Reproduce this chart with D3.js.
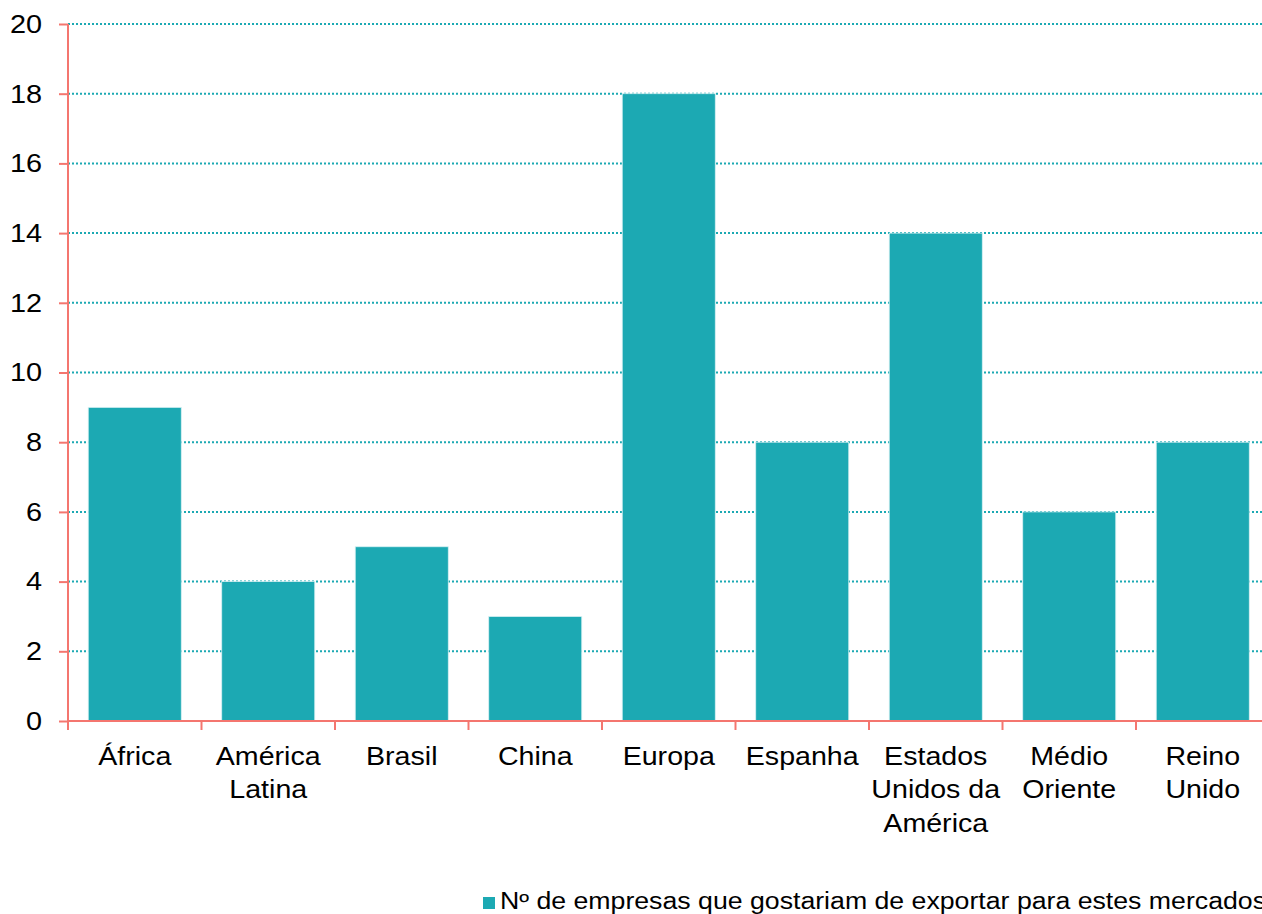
<!DOCTYPE html>
<html>
<head>
<meta charset="utf-8">
<script src="https://cdn.jsdelivr.net/npm/d3@7"></script>
<style>
  html, body { margin: 0; padding: 0; background: #fff; overflow: hidden; }
  svg { display: block; }
  text { font-family: "Liberation Sans", Arial, sans-serif; fill: #000; }
</style>
</head>
<body>
<svg id="chart" width="1262" height="914"></svg>
<script>
// Markets of interest and number of companies per market
const categories = [
  ["África"],
  ["América", "Latina"],
  ["Brasil"],
  ["China"],
  ["Europa"],
  ["Espanha"],
  ["Estados", "Unidos da", "América"],
  ["Médio", "Oriente"],
  ["Reino", "Unido"]
];
const values = [9, 4, 5, 3, 18, 8, 14, 6, 8];
const yTicks = [0, 2, 4, 6, 8, 10, 12, 14, 16, 18, 20];
const seriesName = "Nº de empresas que gostariam de exportar para estes mercados";

const barColor = "#1ca9b3";
const axisColor = "#f4766f";

const svg = d3.select("#chart");
const plotLeft = 68, plotTop = 24, plotBottom = 721;
const step = 133.5;
const keys = categories.map((c, i) => i);

const x = d3.scaleBand()
  .domain(keys)
  .range([plotLeft, plotLeft + step * keys.length])
  .paddingInner(0.303)
  .paddingOuter(0.1515);

const y = d3.scaleLinear().domain([0, 20]).range([plotBottom, plotTop]);

// dotted horizontal gridlines
svg.append("g")
  .selectAll("line")
  .data(yTicks.filter(t => t > 0))
  .join("line")
  .attr("x1", plotLeft).attr("x2", 1262)
  .attr("y1", d => y(d)).attr("y2", d => y(d))
  .attr("stroke", barColor)
  .attr("stroke-width", 2)
  .attr("stroke-dasharray", "2,2");

// bars
svg.append("g")
  .selectAll("rect")
  .data(values)
  .join("rect")
  .attr("x", (d, i) => x(i))
  .attr("width", x.bandwidth())
  .attr("y", d => y(d))
  .attr("height", d => y(0) - y(d))
  .attr("fill", barColor)
  .attr("stroke", "#d8f1f3")
  .attr("stroke-width", 0.8);

// y axis (labels slightly widened)
const tickOffset = 26;
const yAxis = svg.append("g")
  .attr("transform", `translate(${plotLeft},0)`)
  .call(d3.axisLeft(y).tickValues(yTicks).tickSize(9).tickPadding(tickOffset - 9));
yAxis.select(".domain").remove();
yAxis.selectAll(".tick line").attr("stroke", axisColor).attr("stroke-width", 2);
yAxis.selectAll(".tick text")
  .style("font-size", "26px")
  .style("font-family", "'Liberation Sans', Arial, sans-serif")
  .attr("fill", "#000")
  .attr("transform", `translate(${-tickOffset},0) scale(1.11,1) translate(${tickOffset},0)`);
yAxis.append("line")
  .attr("x1", 0).attr("x2", 0)
  .attr("y1", plotTop).attr("y2", plotBottom + 9)
  .attr("stroke", axisColor).attr("stroke-width", 2);

// x axis with ticks at band boundaries
const xg = svg.append("g");
xg.append("line")
  .attr("x1", plotLeft).attr("x2", 1262)
  .attr("y1", plotBottom).attr("y2", plotBottom)
  .attr("stroke", axisColor).attr("stroke-width", 2);
xg.selectAll("line.tk")
  .data(d3.range(1, keys.length + 1))
  .join("line")
  .attr("class", "tk")
  .attr("x1", d => plotLeft + step * d).attr("x2", d => plotLeft + step * d)
  .attr("y1", plotBottom).attr("y2", plotBottom + 9)
  .attr("stroke", axisColor).attr("stroke-width", 2);

// category labels (multi-line)
const lab = xg.selectAll("text.cat")
  .data(categories)
  .join("text")
  .attr("class", "cat")
  .attr("text-anchor", "middle")
  .style("font-size", "26px");
lab.each(function(lines, i) {
  const t = d3.select(this);
  const cx = x(i) + x.bandwidth() / 2;
  t.attr("transform", `translate(${cx},0) scale(1.1,1) translate(${-cx},0)`);
  lines.forEach((ln, j) => {
    t.append("tspan")
      .attr("x", cx)
      .attr("y", 765 + j * 33.5)
      .text(ln);
  });
});

// legend
const lg = svg.append("g");
lg.append("rect")
  .attr("x", 483).attr("y", 897)
  .attr("width", 12).attr("height", 12)
  .attr("fill", barColor);
lg.append("text")
  .attr("x", 500).attr("y", 909)
  .style("font-size", "23px")
  .attr("textLength", 766)
  .attr("lengthAdjust", "spacingAndGlyphs")
  .text(seriesName);
</script>
</body>
</html>
